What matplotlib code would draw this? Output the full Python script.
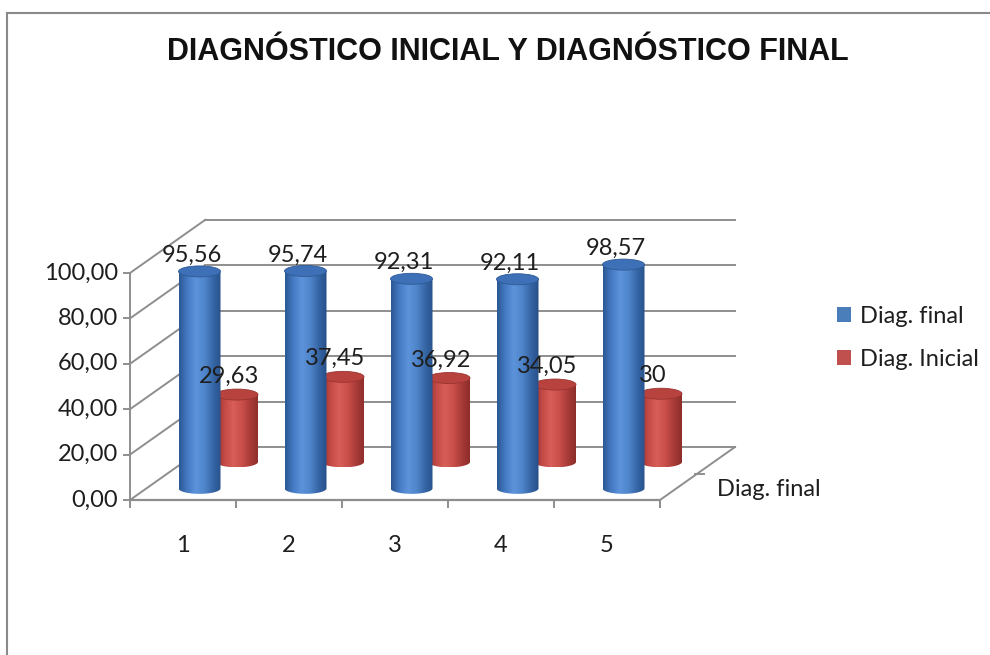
import numpy as np
import matplotlib.pyplot as plt
from matplotlib.patches import Ellipse, Polygon, Patch
from matplotlib.colors import LinearSegmentedColormap
from matplotlib.lines import Line2D

categories = ['1', '2', '3', '4', '5']
diag_final = [95.56, 95.74, 92.31, 92.11, 98.57]
diag_inicial = [29.63, 37.45, 36.92, 34.05, 30]
value_ticks = [0, 20, 40, 60, 80, 100]
series_names = ['Diag. final', 'Diag. Inicial']

# oblique 3d frame: one category = 106 px, one value unit = 2.27 px
PX_CAT = 106.0
PX_VAL = 2.27
DX = 75 / PX_CAT      # depth offset of back wall, in category units
DY = 53 / PX_VAL      # depth offset of back wall, in value units
GRID = '#8e8e8e'
TXT = '#1e1e1e'
FS = 17

blue_cmap = LinearSegmentedColormap.from_list(
    'cyl_blue', ['#2b5792', '#457bc4', '#5d93da', '#4f85ca', '#3666a6', '#274f88'])
red_cmap = LinearSegmentedColormap.from_list(
    'cyl_red', ['#93302d', '#c44a46', '#d85e5a', '#ca4f4b', '#a93b38', '#8c2d2a'])


def proj(c, d, v):
    return c + d * DX, v + d * DY


def cylinder(ax, cx, base, top, w, h, cmap, top_color, z):
    a, b = w / 2, h / 2
    th = np.linspace(0, -np.pi, 60)
    verts = [(cx - a, base), (cx - a, top), (cx + a, top)]
    verts += list(zip(cx + a * np.cos(th), base + b * np.sin(th)))
    body = Polygon(verts, closed=True, facecolor='none', edgecolor='none', zorder=z)
    ax.add_patch(body)
    grad = np.linspace(0, 1, 256).reshape(1, -1)
    im = ax.imshow(grad, cmap=cmap, extent=[cx - a, cx + a, base - b, top],
                   aspect='auto', zorder=z, interpolation='bilinear')
    im.set_clip_path(body)
    ax.add_patch(Ellipse((cx, top), w, h, facecolor=top_color,
                         edgecolor=cmap(0.9), lw=0.6, zorder=z + 0.1))


def fmt(v, dec=None):
    s = f'{v:.{dec}f}' if dec is not None else f'{v:g}'
    return s.replace('.', ',')


fig = plt.figure(figsize=(9.9, 6.55), dpi=100)
fig.patch.set_facecolor('white')
ax = fig.add_axes([0, 0, 1, 1])

n = len(categories)
x0, x1 = 0.5, n + 0.5

# back wall and left wall gridlines
for v in value_ticks:
    ax.plot([x0 + DX, x1 + DX], [v + DY, v + DY], color=GRID, lw=1.4, zorder=1)
    ax.plot([x0, x0 + DX], [v, v + DY], color=GRID, lw=1.4, zorder=1)

# floor edges and axes
ax.plot([x0, x1], [0, 0], color=GRID, lw=1.6, zorder=1)
ax.plot([x1, x1 + DX], [0, DY], color=GRID, lw=1.4, zorder=1)
ax.plot([x0, x0], [0, 100], color=GRID, lw=1.4, zorder=1)
for v in value_ticks:
    ax.plot([x0 - 6 / PX_CAT, x0], [v, v], color=GRID, lw=1.4, zorder=1)
    ax.text(x0 - 12 / PX_CAT, v, fmt(v, 2), ha='right', va='center',
            fontsize=FS, family='Lato', color=TXT)
for i in range(n + 1):
    ax.plot([x0 + i, x0 + i], [0, -7 / PX_VAL], color=GRID, lw=1.4, zorder=1)
mx, my = proj(x1, 0.5, 0)
ax.plot([mx - 3 / PX_CAT, mx + 6 / PX_CAT], [my, my], color=GRID, lw=1.4, zorder=1)

for i, c in enumerate(categories):
    ax.text(i + 1, -45 / PX_VAL, c, ha='center', va='center',
            fontsize=FS, family='Lato', color=TXT)

lx = x1 + (717 - 660) / PX_CAT
ax.text(lx, 10 / PX_VAL, series_names[0], ha='left', va='center',
        fontsize=FS, family='Lato', color=TXT)

w = 42 / PX_CAT
h = 11 / PX_VAL

# back row: Diag. Inicial, front row: Diag. final
rows = [
    (diag_inicial, 0.72, red_cmap, '#b8423e', 2, 18),
    (diag_final, 0.22, blue_cmap, '#3d70b7', 4, 16),
]
for vals, depth, cmap, top_color, z, lab_off in rows:
    for i, v in enumerate(vals):
        cx, base = proj(i + 1, depth, 0)
        cylinder(ax, cx, base, base + v, w, h, cmap, top_color, z)
        ax.text(cx - 8 / PX_CAT, base + v + lab_off / PX_VAL, fmt(v),
                ha='center', va='center', fontsize=FS, family='Lato',
                color=TXT, zorder=10)

ax.set_xlim(0.5 - 130 / PX_CAT, 0.5 + (990 - 130) / PX_CAT)
ax.set_ylim(-(655 - 500) / PX_VAL, 500 / PX_VAL)
ax.axis('off')

ax.legend(handles=[Patch(facecolor='#4a7ebb', label=series_names[0]),
                   Patch(facecolor='#c0504d', label=series_names[1])],
          loc='center left', bbox_to_anchor=(825 / 990, 1 - 338 / 655),
          bbox_transform=fig.transFigure, frameon=False,
          prop={'family': 'Lato', 'size': FS}, handlelength=0.6,
          handleheight=0.6, handletextpad=0.4, labelspacing=0.95,
          borderpad=0, labelcolor=TXT)

fig.text(508 / 990, 1 - 52 / 655, 'DIAGNÓSTICO INICIAL Y DIAGNÓSTICO FINAL',
         ha='center', va='center', fontsize=22, family='Liberation Sans',
         weight='bold', color='#111111')

# chart area border
fig.add_artist(Line2D([7 / 990, 1], [1 - 13 / 655, 1 - 13 / 655],
                      transform=fig.transFigure, color='#8a8a8a', lw=1.5))
fig.add_artist(Line2D([7 / 990, 7 / 990], [0, 1 - 13 / 655],
                      transform=fig.transFigure, color='#8a8a8a', lw=1.5))

fig.savefig('out.png', dpi=100, facecolor='white')
